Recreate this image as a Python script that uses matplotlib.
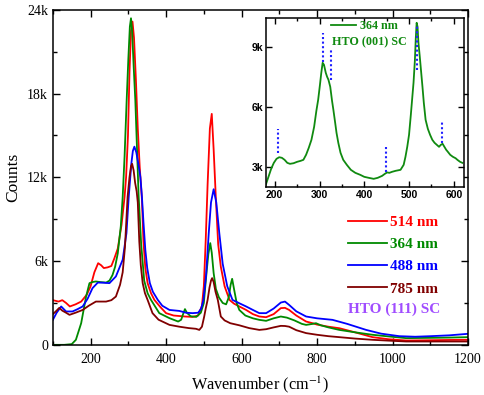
import numpy as np
import matplotlib
matplotlib.use("Agg")
import matplotlib.pyplot as plt
from matplotlib.ticker import MultipleLocator, FuncFormatter

# ── Main spectra, HTO (111) single crystal (counts in thousands) ──
x_514 = [100, 115, 125, 135, 145, 160, 175, 190, 200, 210, 220, 228, 235, 245, 255, 263,
         272, 282, 290, 294, 299, 303, 307, 311, 315, 320, 325, 330, 334, 336, 340, 345,
         351, 360, 369, 385, 400, 420, 450, 470, 485, 495, 500, 505, 510, 516, 521, 526,
         532, 538, 545, 555, 568, 580, 594, 612, 630, 647, 665, 685, 704, 715, 726, 745,
         771, 788, 800, 830, 859, 900, 947, 990, 1036, 1100, 1150, 1200]
y_514 = [3.2, 3.1, 3.2, 3.0, 2.75, 2.9, 3.1, 3.6, 4.2, 5.2, 5.85, 5.7, 5.5, 5.55, 5.65, 6.2,
         6.9, 8.6, 10.6, 12.0, 15.0, 19.5, 22.5, 23.16, 22.0, 19.0, 15.5, 12.8, 11.2, 10.4, 7.4, 5.5,
         4.42, 3.7, 3.22, 2.7, 2.27, 2.1, 2.03, 2.0, 2.1, 2.8, 4.2, 7.5, 11.5, 15.5, 16.55, 14.0,
         10.4, 7.2, 5.6, 4.2, 3.22, 2.95, 2.75, 2.5, 2.2, 2.03, 1.98, 2.2, 2.63, 2.65, 2.5, 2.1,
         1.67, 1.55, 1.45, 1.3, 1.19, 0.9, 0.55, 0.4, 0.31, 0.33, 0.35, 0.36]

x_364 = [100, 130, 150, 161, 175, 188, 197, 205, 214, 225, 241, 250, 258, 265, 272, 280,
         285, 290, 295.5, 300, 304, 307, 310, 314, 318.5, 323, 327, 334, 342, 351, 360, 382,
         409, 432, 440, 445, 450, 455, 465, 480, 492, 500, 507, 512, 517, 521, 526, 532,
         540, 550, 559, 566, 571, 575, 580, 587, 594, 610, 630, 647, 665, 685, 704, 720,
         740, 760, 771, 788, 797, 810, 830, 859, 900, 947, 990, 1036, 1100, 1150, 1200]
y_364 = [0.0, 0.0, 0.05, 0.36, 1.55, 3.46, 4.42, 4.5, 4.54, 4.5, 4.46, 4.6, 5.0, 5.6, 6.56, 8.5,
         10.6, 13.5, 17.5, 20.5, 22.8, 23.4, 22.5, 20.0, 17.5, 14.0, 10.8, 7.2, 4.6, 3.7, 3.22, 2.27,
         1.91, 1.67, 1.8, 2.2, 2.56, 2.3, 2.05, 2.0, 2.3, 3.0, 5.14, 6.5, 7.29, 6.6, 5.14, 4.0,
         3.4, 3.0, 2.9, 3.4, 4.3, 4.73, 4.0, 3.0, 2.5, 2.1, 1.9, 1.79, 1.72, 1.9, 2.03, 1.95,
         1.75, 1.5, 1.43, 1.5, 1.55, 1.4, 1.25, 1.07, 0.9, 0.72, 0.6, 0.48, 0.5, 0.52, 0.55]

x_488 = [100, 110, 122, 135, 152, 165, 179, 192, 205, 219, 235, 250, 267, 285, 295, 301,
         308, 312, 316, 321, 327, 332, 336, 340, 345, 350, 357, 365, 378, 390, 409, 435,
         453, 470, 485, 493, 499, 506, 513, 519, 526, 533, 541, 550, 562, 576, 594, 612,
         630, 647, 665, 685, 704, 715, 726, 745, 771, 800, 841, 880, 930, 970, 1018, 1060,
         1100, 1150, 1200]
y_488 = [1.79, 2.3, 2.75, 2.39, 2.39, 2.55, 2.75, 3.3, 4.06, 4.46, 4.45, 4.42, 4.9, 6.1, 8.0, 10.6,
         13.0, 13.9, 14.2, 13.8, 12.9, 12.0, 10.6, 8.8, 6.8, 5.5, 4.42, 3.8, 3.22, 2.8, 2.5, 2.43,
         2.3, 2.27, 2.3, 2.6, 3.22, 5.0, 8.0, 10.2, 11.15, 10.2, 8.0, 5.8, 4.2, 3.22, 2.98, 2.75,
         2.5, 2.27, 2.27, 2.6, 3.03, 3.1, 2.86, 2.4, 2.03, 1.9, 1.79, 1.5, 1.07, 0.8, 0.62, 0.58,
         0.62, 0.68, 0.79]

x_785 = [100, 108, 117, 125, 135, 144, 160, 179, 195, 214, 241, 255, 267, 278, 285, 291,
         298, 303, 307, 310, 314, 318, 322, 325, 329, 333, 338, 344, 351, 364, 380, 409,
         435, 460, 479, 488, 495, 501, 505, 510, 515, 519, 522, 526, 531, 537, 545, 555,
         570, 594, 620, 647, 665, 685, 704, 715, 726, 745, 771, 800, 830, 859, 900, 947,
         990, 1036, 1100, 1150, 1200]
y_785 = [2.2, 2.4, 2.65, 2.45, 2.3, 2.15, 2.3, 2.5, 2.8, 3.1, 3.1, 3.2, 3.46, 4.3, 5.2, 7.0,
         10.6, 12.0, 12.8, 12.97, 12.5, 11.6, 11.0, 10.2, 7.4, 5.7, 4.42, 3.7, 3.22, 2.27, 1.8, 1.43,
         1.3, 1.2, 1.15, 1.07, 1.3, 2.03, 2.6, 3.22, 4.1, 4.6, 4.78, 4.5, 3.8, 3.22, 2.03, 1.75,
         1.55, 1.4, 1.2, 1.07, 1.12, 1.25, 1.36, 1.35, 1.3, 1.05, 0.84, 0.72, 0.62, 0.55, 0.45, 0.36,
         0.3, 0.24, 0.24, 0.24, 0.24]

# ── Inset, HTO (001) single crystal, 364 nm ──
x_001 = [180, 186, 192, 198, 204, 210, 216, 222, 228, 234, 242, 250, 258, 264, 270, 276,
         282, 288, 293, 297, 301, 304, 307, 310, 314, 317, 320, 324, 328, 331, 335, 338,
         342, 347, 353, 361, 370, 380, 391, 400, 410, 421, 430, 440, 446, 451, 456, 462,
         470, 481, 488, 492, 496, 500, 504, 507, 510, 513, 515, 517, 519, 521, 524, 526,
         530, 533, 537, 542, 547, 552, 557, 562, 567, 571, 575, 579, 583, 586, 592, 598,
         604, 608, 614, 619]
y_001 = [2.1, 2.5, 2.9, 3.2, 3.4, 3.48, 3.45, 3.35, 3.2, 3.15, 3.18, 3.25, 3.3, 3.35, 3.6, 3.95,
         4.35, 5.0, 5.8, 6.35, 7.1, 7.7, 8.2, 8.1, 7.7, 7.5, 7.35, 7.0, 6.3, 5.85, 5.2, 4.7,
         4.2, 3.7, 3.35, 3.1, 2.85, 2.7, 2.6, 2.5, 2.45, 2.4, 2.45, 2.55, 2.65, 2.72, 2.7, 2.75,
         2.8, 2.85, 3.1, 3.5, 4.0, 4.6, 5.6, 6.4, 7.2, 8.3, 9.4, 10.2, 10.0, 9.2, 8.5, 8.0,
         7.0, 6.2, 5.35, 4.9, 4.6, 4.35, 4.2, 4.1, 4.0, 4.1, 4.15, 4.0, 3.85, 3.77, 3.6, 3.5,
         3.43, 3.35, 3.25, 3.2]

# dotted markers in the inset: position, lower end, upper end (k counts)
mark_pos = [207, 307, 325, 449, 518, 573]
mark_lo = [3.7, 8.25, 7.35, 2.75, 7.85, 4.2]
mark_hi = [4.9, 9.7, 8.9, 4.05, 10.1, 5.3]

series = [
    ("514 nm", x_514, y_514, "#FF0000"),
    ("364 nm", x_364, y_364, "#008A00"),
    ("488 nm", x_488, y_488, "#0000FF"),
    ("785 nm", x_785, y_785, "#800000"),
]

plt.rcParams["font.family"] = "Liberation Serif"
plt.rcParams["mathtext.fontset"] = "stix"

fig = plt.figure(figsize=(4.85, 3.95), dpi=100)
ax = fig.add_axes([0.109, 0.127, 0.856, 0.848])

for label, xs, ys, c in series:
    ax.plot(xs, np.array(ys) * 1000, color=c, lw=1.3, label=label)

ax.set_xlim(100, 1200)
ax.set_ylim(0, 24000)
ax.xaxis.set_major_locator(MultipleLocator(200))
ax.xaxis.set_minor_locator(MultipleLocator(100))
ax.yaxis.set_major_locator(MultipleLocator(6000))
ax.yaxis.set_minor_locator(MultipleLocator(3000))
ax.yaxis.set_major_formatter(FuncFormatter(lambda v, p: "0" if v == 0 else f"{v/1000:.0f}k"))
ax.tick_params(which="both", direction="in", top=True, right=True, labelsize=10, width=1)
ax.tick_params(which="major", length=5)
ax.tick_params(which="minor", length=3)
ax.tick_params(axis="x", pad=6)
for sp in ax.spines.values():
    sp.set_linewidth(1.1)
ax.set_xlabel("Wavenumber (cm$^{-1}$)", fontsize=11.7, labelpad=6)
ax.set_ylabel("Counts", fontsize=12.5, labelpad=4)

leg = ax.legend(loc="upper left", bbox_to_anchor=(0.71, 0.386), frameon=False,
                handlelength=2.6, handletextpad=0.15, labelspacing=0.55,
                prop={"weight": "bold", "size": 11}, labelcolor="linecolor",
                borderaxespad=0, borderpad=0)
ax.text(0.712, 0.107, "HTO (111) SC", transform=ax.transAxes, color="#A04DFF",
        fontsize=11, fontweight="bold", va="center")

# ── Inset ──
ins = fig.add_axes([0.548, 0.527, 0.408, 0.428])
ins.plot(x_001, np.array(y_001) * 1000, color="#108A10", lw=1.3, label="364 nm")
ins.vlines(mark_pos, np.array(mark_lo) * 1000, np.array(mark_hi) * 1000,
           colors="#2020FF", linestyles=(0, (1, 1.2)), lw=1.5)
ins.set_xlim(180, 622)
ins.set_ylim(2000, 10450)
ins.xaxis.set_major_locator(MultipleLocator(100))
ins.xaxis.set_minor_locator(MultipleLocator(50))
ins.yaxis.set_major_locator(MultipleLocator(3000))
ins.yaxis.set_major_formatter(FuncFormatter(lambda v, p: f"{v/1000:.0f}k"))
ins.tick_params(which="both", direction="in", top=True, right=True, width=1, pad=2)
ins.tick_params(which="major", length=4)
ins.tick_params(which="minor", length=2.5)
for t in ins.get_xticklabels() + ins.get_yticklabels():
    t.set_fontfamily("Liberation Sans")
    t.set_fontweight("bold")
    t.set_fontsize(7.5)
for sp in ins.spines.values():
    sp.set_linewidth(1.1)

ins.legend(loc="upper left", bbox_to_anchor=(0.33, 0.985), frameon=False,
           handlelength=2.1, handletextpad=0.3, borderaxespad=0, borderpad=0,
           prop={"weight": "bold", "size": 8.7}, labelcolor="linecolor")
ins.text(0.335, 0.854, "HTO (001) SC", transform=ins.transAxes, color="#108A10",
         fontsize=8.7, fontweight="bold", va="center")

fig.savefig("out.png", dpi=100)
